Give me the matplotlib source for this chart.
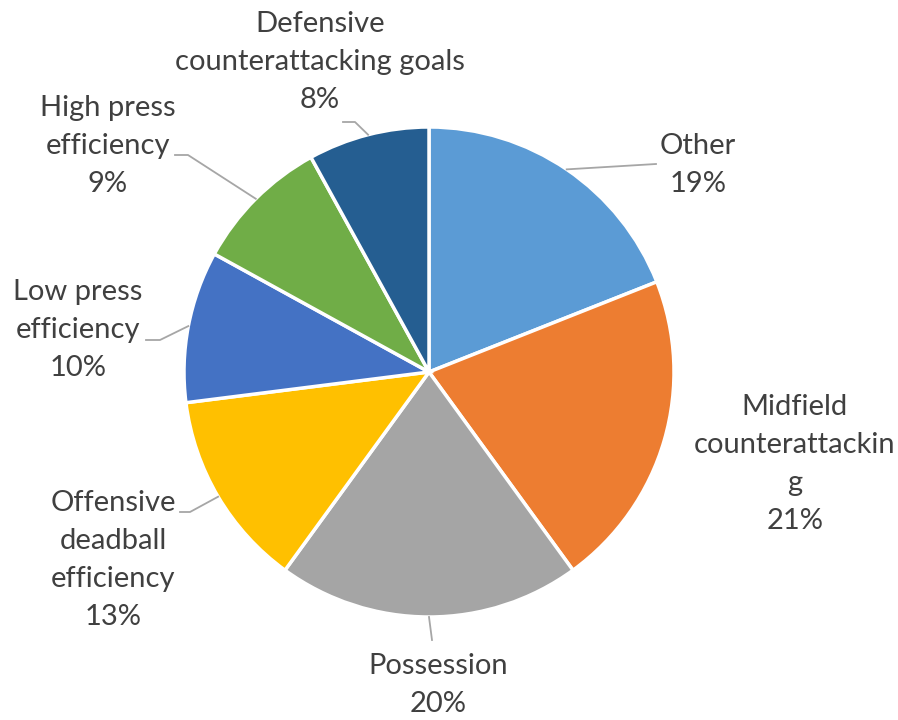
import numpy as np
import matplotlib.pyplot as plt

categories = ["Other", "Midfield\ncounterattackin\ng", "Possession",
              "Offensive\ndeadball\nefficiency", "Low press\nefficiency",
              "High press\nefficiency", "Defensive\ncounterattacking goals"]
shares = [19, 21, 20, 13, 10, 9, 8]
colors = ["#5B9BD5", "#ED7D31", "#A5A5A5", "#FFC000", "#4472C4", "#70AD47", "#255E91"]

# label centres (pixels from top-left) and leader elbow points
label_pos = [(698, 165), (795, 464), (438, 685), (113, 560), (78, 330), (108, 146), (320, 62)]
elbows = [(656, 164), None, (432, 640), (190, 512), (160, 340), (188, 155), (355, 122)]
elbow_ends = [None, None, None, (180, 512), (146, 340), (175, 155), (343, 122)]

W, H = 898, 720
cx, cy, r = 429, 372, 245

fig = plt.figure(figsize=(W / 100, H / 100), dpi=100)
ax = fig.add_axes([0, 0, 1, 1])

wedges, _ = ax.pie(shares, colors=colors, startangle=90, counterclock=False,
                   center=(cx, H - cy), radius=r, frame=True,
                   wedgeprops=dict(edgecolor="white", linewidth=2.5))
ax.set_xlim(0, W)
ax.set_ylim(0, H)
ax.set_aspect("equal")
ax.axis("off")

lead_col = "#A6A6A6"
for w, name, val, pos, el, ee in zip(wedges, categories, shares, label_pos, elbows, elbow_ends):
    ang = np.deg2rad((w.theta1 + w.theta2) / 2)
    ex, ey = cx + r * np.cos(ang), (H - cy) + r * np.sin(ang)
    if el is not None:
        xs = [ex, el[0]]
        ys = [ey, H - el[1]]
        if ee is not None:
            xs.append(ee[0])
            ys.append(H - ee[1])
        ax.plot(xs, ys, color=lead_col, lw=1.3, zorder=1)
    ax.text(pos[0], H - pos[1], f"{name}\n{val}%", ha="center", va="center",
            fontsize=21, color="#404040", family=["Lato", "DejaVu Sans"],
            linespacing=1.58)

fig.savefig("out.png", dpi=100)
